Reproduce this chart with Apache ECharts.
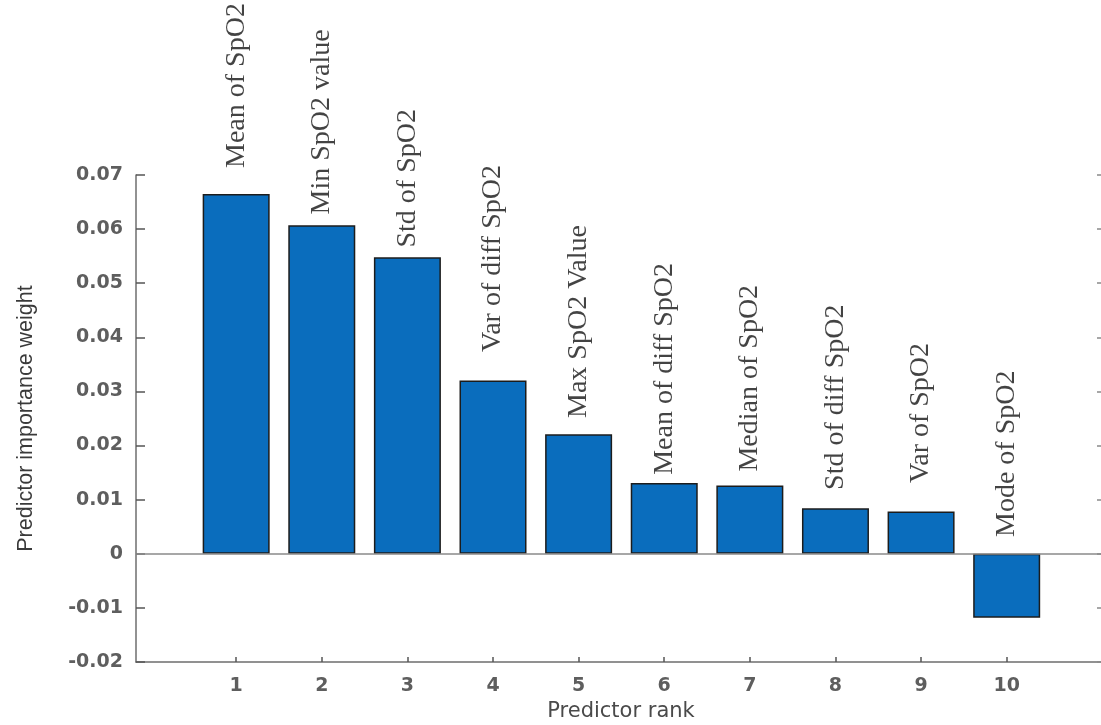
<!DOCTYPE html>
<html>
<head>
<meta charset="utf-8">
<script src="https://cdn.jsdelivr.net/npm/echarts@6/dist/echarts.min.js"></script>
<style>
  html, body { margin: 0; padding: 0; background: #ffffff; }
  #chart { width: 1101px; height: 725px; }
</style>
</head>
<body>
<div id="chart"></div>
<script>
// Predictor ranks on the x axis
const ranks = [1, 2, 3, 4, 5, 6, 7, 8, 9, 10];

// Feature name written above each bar
const predictorNames = [
  'Mean of SpO2', 'Min SpO2 value', 'Std of SpO2', 'Var of diff SpO2',
  'Max SpO2 Value', 'Mean of diff SpO2', 'Median of SpO2', 'Std of diff SpO2',
  'Var of SpO2', 'Mode of SpO2'
];

// Importance weight of each predictor
const importanceWeights = [0.0665, 0.0607, 0.0548, 0.0320, 0.0221, 0.0131, 0.0126, 0.0084, 0.0078, -0.0118];

// Height (in weight units) where each feature name starts
const nameBaseline = [0.0713, 0.0627, 0.0566, 0.0373, 0.0251, 0.0146, 0.0152, 0.0118, 0.0131, 0.0031];

// Weight axis range and step
const yMin = -0.02, yMax = 0.07, yStep = 0.01;

const chart = echarts.init(document.getElementById('chart'), null, { renderer: 'canvas' });

const tickFont = { fontFamily: 'DejaVu Sans', fontWeight: 'bold', fontSize: 19, color: '#5e5e5e' };

chart.setOption({
  animation: false,
  backgroundColor: '#ffffff',
  grid: { left: 136, width: 970, top: 175, bottom: 63, containLabel: false, outerBoundsMode: 'none' },
  xAxis: {
    type: 'value',
    min: -0.17,
    max: 11.16,
    name: 'Predictor rank',
    nameLocation: 'middle',
    nameGap: 36,
    nameTextStyle: { fontFamily: 'DejaVu Sans', fontSize: 21, color: '#4a4a4a' },
    axisLine: { show: true, onZero: false, lineStyle: { color: '#6e6e6e', width: 1.5 } },
    axisTick: { show: true, inside: true, length: 5, customValues: ranks, lineStyle: { color: '#555555', width: 1.5 } },
    axisLabel: Object.assign({ customValues: ranks, margin: 15 }, tickFont),
    splitLine: { show: false }
  },
  yAxis: [
    {
      type: 'value',
      min: yMin,
      max: yMax,
      interval: yStep,
      name: 'Predictor importance weight',
      nameLocation: 'middle',
      nameGap: 99,
      nameTextStyle: { fontFamily: 'Liberation Sans', fontSize: 21.5, color: '#3a3a3a' },
      axisLine: { show: true, onZero: false, lineStyle: { color: '#6e6e6e', width: 1.5 } },
      axisTick: { show: true, inside: true, length: 9, lineStyle: { color: '#555555', width: 1.5 } },
      axisLabel: Object.assign({ margin: 13 }, tickFont),
      splitLine: { show: false }
    },
    {
      type: 'value',
      position: 'right',
      min: yMin,
      max: yMax,
      interval: yStep,
      axisLine: { show: true, onZero: false, lineStyle: { color: '#9a9a9a', width: 1.5 } },
      axisTick: { show: true, inside: true, length: 9, lineStyle: { color: '#8a8a8a', width: 1.5 } },
      axisLabel: { show: false },
      splitLine: { show: false }
    }
  ],
  series: [
    {
      type: 'bar',
      data: ranks.map((r, i) => [r, importanceWeights[i]]),
      barWidth: 67,
      itemStyle: { color: '#0A6DBD', borderColor: '#1c1c1c', borderWidth: 1.5 },
      markLine: {
        silent: true,
        symbol: 'none',
        label: { show: false },
        lineStyle: { color: '#8a8a8a', width: 1.5, type: 'solid' },
        data: [{ yAxis: 0 }]
      },
      z: 2
    },
    {
      type: 'scatter',
      clip: false,
      data: ranks.map((r, i) => [r, nameBaseline[i]]),
      symbolSize: 1,
      itemStyle: { color: 'transparent' },
      labelLayout: { hideOverlap: false },
      label: {
        show: true,
        formatter: p => predictorNames[p.dataIndex],
        position: 'inside',
        rotate: 90,
        align: 'left',
        verticalAlign: 'middle',
        fontFamily: 'Liberation Serif',
        fontSize: 28,
        color: '#141414'
      },
      z: 5
    }
  ]
});
</script>
</body>
</html>
